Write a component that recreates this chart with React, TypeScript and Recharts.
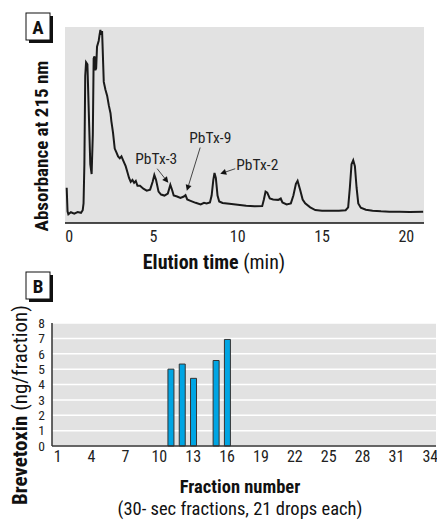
import React from 'react';
import {
  Bar,
  BarChart,
  CartesianGrid,
  Line,
  LineChart,
  ReferenceDot,
  ReferenceLine,
  XAxis,
  YAxis,
} from 'recharts';

const NARROW = "'Liberation Sans Narrow', 'Arial Narrow', 'Roboto Condensed', sans-serif";

// Panel A: chromatogram (elution time in min, absorbance in arbitrary units)
const elutionTime = [
  -0.15, -0.1, -0.05, 0.1, 0.3, 0.5, 0.7, 0.8, 0.85, 0.9, 0.95, 1.0, 1.08, 1.15, 1.25, 1.33,
  1.4, 1.45, 1.5, 1.55, 1.6, 1.65, 1.75, 1.8, 1.85, 1.9, 1.95, 2.0, 2.05, 2.15, 2.25, 2.35,
  2.45, 2.5, 2.55, 2.6, 2.7, 2.8, 2.9, 3.0, 3.1, 3.2, 3.35, 3.45, 3.55, 3.65, 3.75, 3.85,
  3.95, 4.05, 4.2, 4.4, 4.6, 4.8, 4.95, 5.05, 5.15, 5.3, 5.45, 5.65, 5.85, 6.0, 6.1, 6.2,
  6.4, 6.6, 6.8, 6.9, 7.0, 7.2, 7.5, 7.8, 8.0, 8.15, 8.35, 8.45, 8.55, 8.62, 8.7, 8.8,
  8.9, 9.1, 9.5, 10.0, 10.5, 11.0, 11.45, 11.55, 11.65, 11.75, 11.9, 12.1, 12.4, 12.55, 12.65, 12.9,
  13.15, 13.3, 13.45, 13.55, 13.7, 13.85, 14.0, 14.3, 14.6, 15.0, 15.5, 16.0, 16.4, 16.55, 16.65, 16.75,
  16.85, 16.95, 17.05, 17.15, 17.3, 17.6, 18.0, 18.5, 19.0, 19.6, 20.2, 21.0,
];
const absorbance = [
  18, 6, 4.5, 5.5, 4.8, 5.6, 5.2, 6.5, 10, 30, 75, 82, 81, 60, 30, 25,
  45, 84, 85, 78, 79, 90, 93, 96, 98.5, 96, 98, 85, 72, 68, 65, 60,
  56, 52, 49, 46, 38, 36, 34, 33, 34, 32, 29, 26, 23, 21, 22, 20.5,
  21.5, 19, 19, 17.5, 16.5, 17, 21, 24.5, 22, 16, 14.5, 14, 15, 19.5, 17, 14,
  13.5, 12.8, 13.5, 14.2, 12, 11.3, 10.3, 9.5, 10.3, 10, 10.5, 14, 22, 25.5, 23, 14,
  11, 10.2, 9.8, 9.3, 8.8, 8.5, 8.6, 12, 16, 15.5, 12.5, 12, 11.8, 12.5, 10.5, 9.5,
  10, 14, 20, 21.5, 17, 12, 10, 8, 6.6, 6.3, 6.2, 6.3, 6.5, 8, 18, 30,
  32, 29, 18, 10, 7.8, 6.8, 6.3, 6, 5.8, 5.8, 5.6, 5.8,
];
const timeTicks = [0, 5, 10, 15, 20];

const peakLabels = ['PbTx-3', 'PbTx-9', 'PbTx-2'];
const labelTime = [5.16, 8.37, 11.16];
const labelAbs = [32.8, 43.6, 29.7];
const arrowFrom = [
  [5.22, 27.7],
  [7.77, 38.5],
  [9.85, 27.7],
];
const arrowTo = [
  [5.88, 20.5],
  [6.98, 16.4],
  [8.96, 25.1],
];

// Panel B: brevetoxin per fraction
const fractions = [
  1, 2, 3, 4, 5, 6, 7, 8, 9, 10, 11, 12, 13, 14, 15, 16, 17,
  18, 19, 20, 21, 22, 23, 24, 25, 26, 27, 28, 29, 30, 31, 32, 33, 34,
];
const toxinFractions = [11, 12, 13, 15, 16];
const toxinValues = [5.0, 5.33, 4.4, 5.56, 6.93];
const toxinTicks = [0, 1, 2, 3, 4, 5, 6, 7, 8];

const chromData = elutionTime.map((t, i) => ({ t, a: absorbance[i] }));
const toxinData = fractions.map((f) => {
  const k = toxinFractions.indexOf(f);
  return { fraction: f, toxin: k >= 0 ? toxinValues[k] : null };
});

const Arrow = (props: any) => {
  const { x1, y1, x2, y2 } = props;
  if (x1 == null) return null;
  const ang = Math.atan2(y2 - y1, x2 - x1);
  const len = 6;
  const w = 3;
  const bx = x2 - len * Math.cos(ang);
  const by = y2 - len * Math.sin(ang);
  const px = -Math.sin(ang) * w;
  const py = Math.cos(ang) * w;
  return (
    <g>
      <line x1={x1} y1={y1} x2={bx} y2={by} stroke="#333" strokeWidth={0.9} />
      <polygon points={`${x2},${y2} ${bx + px},${by + py} ${bx - px},${by - py}`} fill="#111" />
    </g>
  );
};

const LetterBox = ({ x, y, letter }: { x: number; y: number; letter: string }) => (
  <g>
    <rect x={x + 3} y={y + 3} width={24} height={27} fill="#111" />
    <rect x={x} y={y} width={24} height={27} fill="#fff" stroke="#111" strokeWidth={1} />
    <text
      x={x + 12}
      y={y + 14}
      textAnchor="middle"
      dominantBaseline="central"
      fontFamily={NARROW}
      fontWeight="bold"
      fontSize={19}
      fill="#111"
    >
      {letter}
    </text>
  </g>
);

export default function App() {
  const tickStyle = { fontFamily: NARROW, fontSize: 16, fill: '#222' };
  const yTickStyle = { fontFamily: NARROW, fontSize: 13.5, fill: '#222' };
  return (
    <div style={{ position: 'absolute', left: 0, top: 0, width: 437, height: 520, background: '#fff' }}>
      <div style={{ position: 'absolute', left: 0, top: 0 }}>
        <LineChart width={437} height={260} data={chromData} margin={{ top: 27, right: 13, left: 65, bottom: 0 }}>
          <CartesianGrid horizontal={false} vertical={false} fill="#e2e2e2" />
          <XAxis
            dataKey="t"
            type="number"
            domain={[-0.25, 21.05]}
            ticks={timeTicks}
            allowDataOverflow
            height={37}
            tickLine={false}
            tickSize={0}
            tickMargin={8}
            axisLine={{ stroke: '#111', strokeWidth: 1.5 }}
            tick={tickStyle}
          />
          <YAxis hide domain={[0, 100]} type="number" />
          <Line
            dataKey="a"
            type="linear"
            stroke="#1a1a1a"
            strokeWidth={2}
            dot={false}
            isAnimationActive={false}
          />
          {peakLabels.map((name, i) => (
            <ReferenceLine
              key={'arrow' + name}
              segment={[
                { x: arrowFrom[i][0], y: arrowFrom[i][1] },
                { x: arrowTo[i][0], y: arrowTo[i][1] },
              ]}
              shape={(p: any) => <Arrow {...p} />}
            />
          ))}
          {peakLabels.map((name, i) => (
            <ReferenceDot
              key={'label' + name}
              x={labelTime[i]}
              y={labelAbs[i]}
              r={0}
              fill="none"
              stroke="none"
              label={{ value: name, position: 'center', fontFamily: NARROW, fontSize: 15.5, fill: '#222' }}
            />
          ))}
        </LineChart>
      </div>

      <div style={{ position: 'absolute', left: 0, top: 300 }}>
        <BarChart width={437} height={170} data={toxinData} margin={{ top: 23, right: 1, left: 0, bottom: 0 }}>
          <CartesianGrid vertical={false} stroke="#fff" strokeWidth={1.5} fill="#e2e2e2" />
          <XAxis
            dataKey="fraction"
            interval={2}
            height={24}
            tickLine={false}
            tickSize={0}
            tickMargin={5}
            axisLine={{ stroke: '#333', strokeWidth: 1.5 }}
            tick={tickStyle}
          />
          <YAxis
            domain={[0, 8]}
            ticks={toxinTicks}
            width={52}
            interval={0}
            tickLine={false}
            tickSize={0}
            tickMargin={7}
            axisLine={{ stroke: '#333', strokeWidth: 1.5 }}
            tick={yTickStyle}
          />
          <Bar
            dataKey="toxin"
            barSize={6}
            fill="#00a5e3"
            stroke="#333"
            strokeWidth={1}
            isAnimationActive={false}
          />
        </BarChart>
      </div>

      <svg
        width={437}
        height={520}
        style={{ position: 'absolute', left: 0, top: 0, pointerEvents: 'none' }}
      >
        <LetterBox x={26} y={13} letter="A" />
        <LetterBox x={26} y={272} letter="B" />
        <text
          transform="translate(41,146) rotate(-90)"
          textAnchor="middle"
          dominantBaseline="central"
          fontFamily={NARROW}
          fontWeight="bold"
          fontSize={19}
          fill="#111"
        >
          Absorbance at 215 nm
        </text>
        <text x={214} y={262} textAnchor="middle" dominantBaseline="central" fontFamily={NARROW} fontSize={20} fill="#111">
          <tspan fontWeight="bold">Elution time</tspan>
          <tspan> (min)</tspan>
        </text>
        <text
          transform="translate(20,405) rotate(-90)"
          textAnchor="middle"
          dominantBaseline="central"
          fontFamily={NARROW}
          fontSize={21}
          fill="#111"
        >
          <tspan fontWeight="bold">Brevetoxin</tspan>
          <tspan> (ng/fraction)</tspan>
        </text>
        <text x={240} y={487} textAnchor="middle" dominantBaseline="central" fontFamily={NARROW} fontWeight="bold" fontSize={18.5} fill="#111">
          Fraction number
        </text>
        <text x={240} y={509} textAnchor="middle" dominantBaseline="central" fontFamily={NARROW} fontSize={18.5} fill="#111">
          (30- sec fractions, 21 drops each)
        </text>
      </svg>
    </div>
  );
}
